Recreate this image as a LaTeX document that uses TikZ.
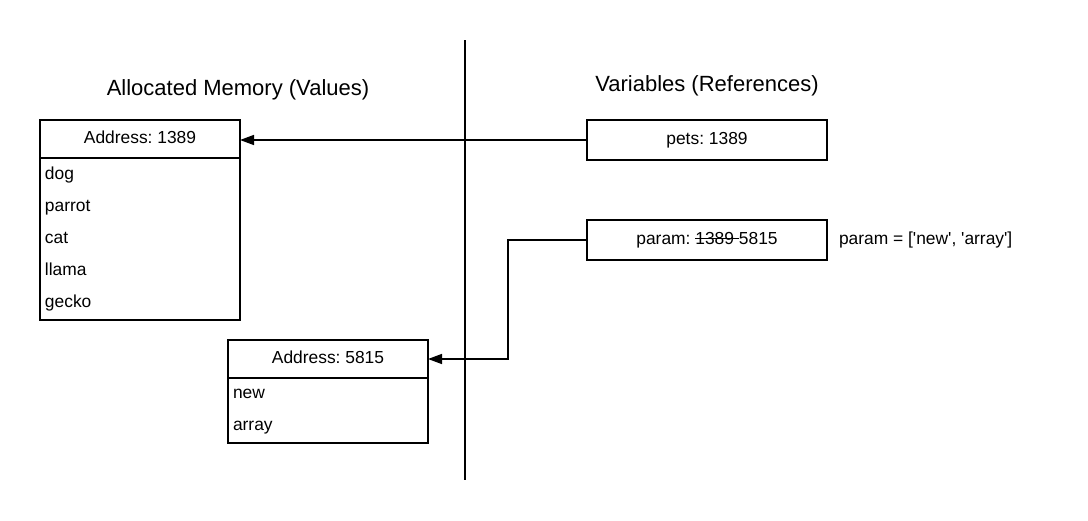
\documentclass[tikz,border=0pt]{standalone}
\usepackage{fontspec}
\setmainfont{Liberation Sans}
\usetikzlibrary{arrows.meta}
\newsavebox\strkbox
\newcommand\strikeit[1]{\sbox\strkbox{#1}\rlap{\rule[0.33em]{\wd\strkbox}{0.7pt}}\usebox\strkbox}
\frenchspacing
\begin{document}
\begin{tikzpicture}[x=1pt,y=-1pt,
  every node/.style={font=\fontsize{17.4}{20}\selectfont\frenchspacing, outer sep=0pt},
  box/.style={draw, line width=1.8pt, rectangle, minimum width=200pt, inner sep=0pt},
  hdr/.style={box, minimum height=38pt, text height=12.5pt, text depth=4pt},
  varbox/.style={draw, line width=1.8pt, rectangle, minimum width=240pt, minimum height=40pt, text height=12.5pt, text depth=4pt},
  item/.style={anchor=base west, inner sep=0pt},
  title/.style={font=\fontsize{22}{26}\selectfont, anchor=base, inner sep=0pt},
  conn/.style={line width=1.4pt, -{Triangle[length=14pt,width=10pt]}}
]
\useasboundingbox (0,0) rectangle (1088,520);
\draw[line width=1.8pt] (465,40) coordinate (vtop) -- (465,480) coordinate (vbot);

\node[title] (t1) at (238,95) {Allocated Memory (Values)};
\node[title] (t2) at (707,91) {Variables (References)};

% memory box 1
\node[hdr] (h1) at (140,139) {Address: 1389};
\node[box, minimum height=162pt, anchor=north] (b1) at (h1.south) {};
\node[item] (i1) at (45,179) {dog};
\node[item] (i2) at (45,211) {parrot};
\node[item] (i3) at (45,243) {cat};
\node[item] (i4) at (45,275) {llama};
\node[item] (i5) at (45,307) {gecko};

% memory box 2
\node[hdr] (h2) at (328,359) {Address: 5815};
\node[box, minimum height=65pt, anchor=north] (b2) at (h2.south) {};
\node[item] (j1) at (233,398) {new};
\node[item] (j2) at (233,430) {array};

% variables
\node[varbox] (pets) at (707,140) {pets: 1389};
\node[varbox] (param) at (707,240) {param: \strikeit{1389 }5815};
\node[anchor=west, inner sep=0pt, text height=12.5pt, text depth=4pt] (note) at (839,240) {param = [\textquotesingle new\textquotesingle, \textquotesingle array\textquotesingle]};

\draw[conn] (pets.west) -- (pets.west -| h1.east);
\coordinate (bend) at (508,240);
\draw[conn] (param.west) -- (bend) |- (h2.east);
\end{tikzpicture}
\end{document}
